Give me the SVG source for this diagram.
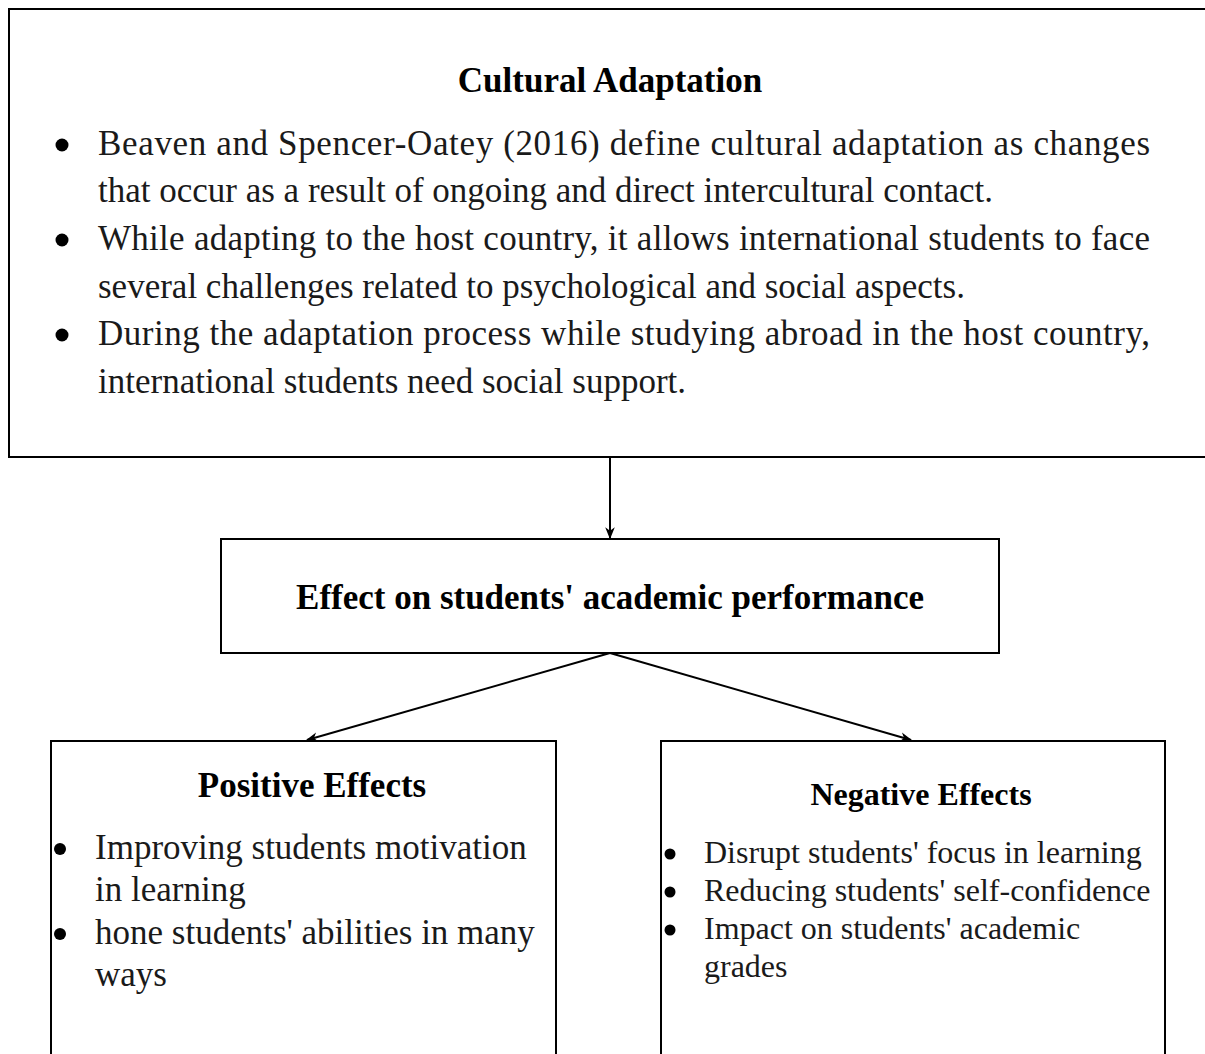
<svg xmlns="http://www.w3.org/2000/svg" width="1205" height="1054" viewBox="0 0 1205 1054">
<defs>
<style>
.box{fill:#fff;stroke:#000;stroke-width:2}
.t{font-family:"Liberation Serif","Times New Roman",serif;font-size:35px;fill:#1a1a1a}
.b{font-weight:bold;fill:#000}
.s{font-size:32px}
.c{stroke:#000;stroke-width:2;fill:none}
</style>
<marker id="ah" viewBox="0 0 10 10" refX="9" refY="5" markerWidth="6" markerHeight="6" orient="auto"><path d="M0,1 L10,5 L0,9 L3,5 z" fill="#000"/></marker>
</defs>
<rect width="1205" height="1054" fill="#fff"/>
<g id="cultural-adaptation">
<rect class="box" x="9" y="9" width="1210" height="448"/>
<text class="t b" x="610" y="92" text-anchor="middle">Cultural Adaptation</text>
<circle cx="62" cy="145" r="6.5"/>
<circle cx="62" cy="240" r="6.5"/>
<circle cx="62" cy="335" r="6.5"/>
<text class="t" x="98" y="155" textLength="1052" lengthAdjust="spacing">Beaven and Spencer-Oatey (2016) define cultural adaptation as changes</text>
<text class="t" x="98" y="202">that occur as a result of ongoing and direct intercultural contact.</text>
<text class="t" x="98" y="250" textLength="1052" lengthAdjust="spacing">While adapting to the host country, it allows international students to face</text>
<text class="t" x="98" y="298">several challenges related to psychological and social aspects.</text>
<text class="t" x="98" y="345" textLength="1052" lengthAdjust="spacing">During the adaptation process while studying abroad in the host country,</text>
<text class="t" x="98" y="393">international students need social support.</text>
</g>
<g id="academic-performance">
<rect class="box" x="221" y="539" width="778" height="114"/>
<text class="t b" x="610" y="609" text-anchor="middle">Effect on students' academic performance</text>
</g>
<g id="positive-effects">
<rect class="box" x="51" y="741" width="505" height="330"/>
<text class="t b" x="312" y="797" text-anchor="middle">Positive Effects</text>
<circle cx="60" cy="849" r="6"/>
<circle cx="60" cy="934" r="6"/>
<text class="t" x="95" y="859">Improving students motivation</text>
<text class="t" x="95" y="901">in learning</text>
<text class="t" x="95" y="944">hone students' abilities in many</text>
<text class="t" x="95" y="986">ways</text>
</g>
<g id="negative-effects">
<rect class="box" x="661" y="741" width="504" height="330"/>
<text class="t b s" x="921" y="805" text-anchor="middle">Negative Effects</text>
<circle cx="670" cy="854" r="5.5"/>
<circle cx="670" cy="892" r="5.5"/>
<circle cx="670" cy="930" r="5.5"/>
<text class="t s" x="704" y="863">Disrupt students' focus in learning</text>
<text class="t s" x="704" y="901">Reducing students' self-confidence</text>
<text class="t s" x="704" y="939">Impact on students' academic</text>
<text class="t s" x="704" y="977">grades</text>
</g>
<g id="connectors">
<line class="c" x1="610" y1="457" x2="610" y2="538" marker-end="url(#ah)"/>
<line class="c" x1="610" y1="653" x2="307" y2="740" marker-end="url(#ah)"/>
<line class="c" x1="610" y1="653" x2="911" y2="740" marker-end="url(#ah)"/>
</g>
</svg>
